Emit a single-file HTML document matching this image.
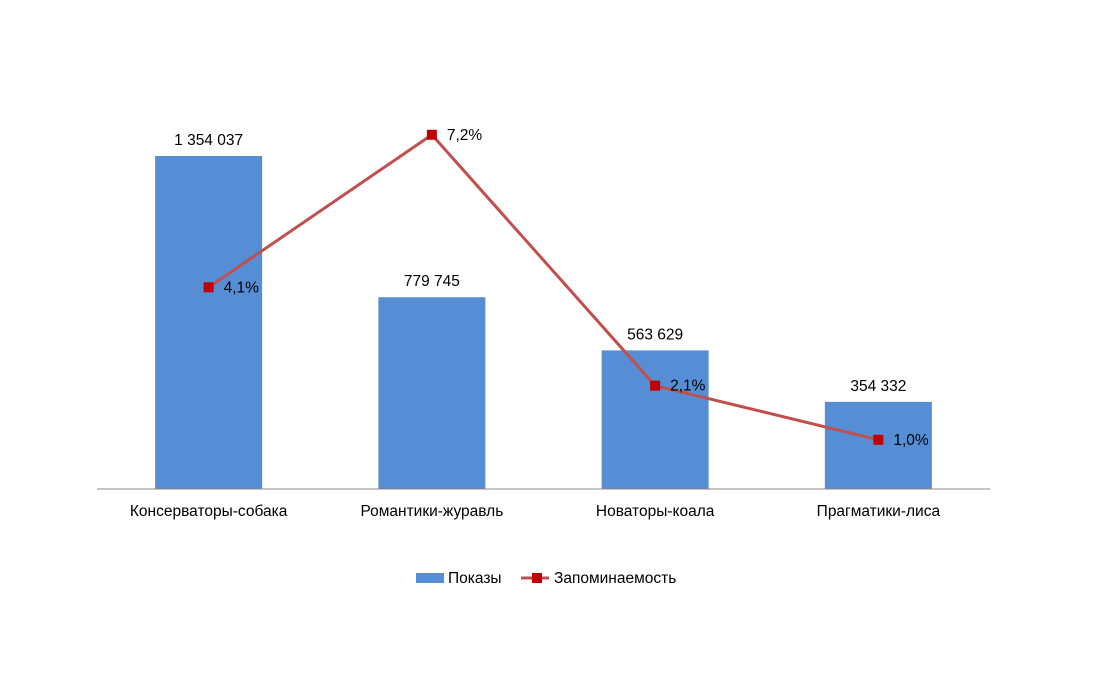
<!DOCTYPE html>
<html><head><meta charset="utf-8"><style>
html,body{margin:0;padding:0;background:#fff;}
svg text{font-family:"Liberation Sans",sans-serif;font-size:15.5px;fill:#000;}
</style></head><body>
<svg width="1104" height="673">
<g id="bars"></g>
<line x1="97" y1="489" x2="990" y2="489" stroke="#888" stroke-width="1"/>
<g id="labels"></g>
<g id="line"></g>
<g>
<rect x="416" y="573" width="28" height="10" fill="#558ED5"/>
<text x="448" y="583">Показы</text>
<line x1="521" y1="578" x2="549" y2="578" stroke="#C0504D" stroke-width="3"/>
<rect x="532" y="573" width="10" height="10" fill="#C00000"/>
<text x="554" y="583">Запоминаемость</text>
</g>
</svg>
<script>
const categories=["Консерваторы-собака","Романтики-журавль","Новаторы-коала","Прагматики-лиса"];
const shows=[1354037,779745,563629,354332];
const showLabels=["1 354 037","779 745","563 629","354 332"];
const recall=[4.1,7.2,2.1,1.0];
const recallLabels=["4,1%","7,2%","2,1%","1,0%"];
const NS="http://www.w3.org/2000/svg";
const x0=97,step=223.25,base=489;
function xC(i){return x0+step*(i+0.5);}
function yBar(v){return base-v*333/1354037;}
function yLine(v){return base-v*49.2;}
function mk(t,a,p){const e=document.createElementNS(NS,t);for(const k in a)e.setAttribute(k,a[k]);p.appendChild(e);return e;}
const gb=document.getElementById('bars'),gl=document.getElementById('labels'),gn=document.getElementById('line');
categories.forEach((c,i)=>{
 const r=mk('rect',{x:xC(i)-53.5,y:yBar(shows[i]),width:107,height:base-yBar(shows[i]),fill:'#558ED5'},gb);
 
 
 const t=mk('text',{x:xC(i),y:yBar(shows[i])-11,'text-anchor':'middle'},gb);t.textContent=showLabels[i];
 
 
 const l=mk('text',{x:xC(i),y:516,'text-anchor':'middle'},gl);l.textContent=c;
 
 
});
const pts=recall.map((v,i)=>xC(i)+','+yLine(v)).join(' ');
const pl=mk('polyline',{points:pts,fill:'none',stroke:'#C0504D','stroke-width':3},gn);


recall.forEach((v,i)=>{
 const m=mk('rect',{x:xC(i)-5,y:yLine(v)-5,width:10,height:10,fill:'#C00000'},gn);
 
 
 const t=mk('text',{x:xC(i)+15,y:yLine(v)+5},gn);t.textContent=recallLabels[i];
 
 
});
</script>
</body></html>
